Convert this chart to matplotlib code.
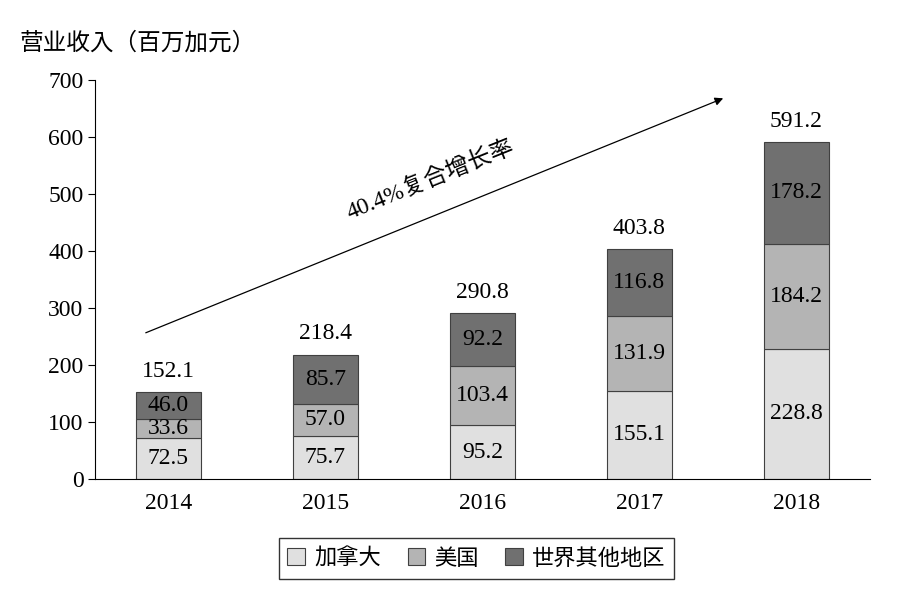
import matplotlib.pyplot as plt
from matplotlib import font_manager
import numpy as np

years = ["2014", "2015", "2016", "2017", "2018"]
canada = [72.5, 75.7, 95.2, 155.1, 228.8]
usa = [33.6, 57.0, 103.4, 131.9, 184.2]
rest = [46.0, 85.7, 92.2, 116.8, 178.2]
totals = [152.1, 218.4, 290.8, 403.8, 591.2]
series_names = ["加拿大", "美国", "世界其他地区"]

# pick whichever CJK family name is actually registered
cjk = "Noto Sans CJK SC"
names = sorted({f.name for f in font_manager.fontManager.ttflist if "CJK" in f.name})
if names and cjk not in names:
    cjk = names[0]

plt.rcParams["font.family"] = ["Liberation Serif", cjk]
plt.rcParams["font.size"] = 17

fig = plt.figure(figsize=(8.99, 6.12), dpi=100)
ax = fig.add_axes([0.106, 0.217, 0.862, 0.652])

x = np.arange(len(years))
w = 0.41
colors = ["#e0e0e0", "#b4b4b4", "#707070"]
bottom = np.zeros(len(years))
for vals, c, name in zip([canada, usa, rest], colors, series_names):
    ax.bar(x, vals, w, bottom=bottom, color=c, edgecolor="#404040", linewidth=0.8, label=name)
    for xi, b, v in zip(x, bottom, vals):
        ax.text(xi, b + v / 2, f"{v:.1f}", ha="center", va="center", fontsize=17)
    bottom += np.array(vals)

for xi, t in zip(x, totals):
    ax.text(xi, t + 18, f"{t:.1f}", ha="center", va="bottom", fontsize=17)

ax.annotate("", xy=(3.55, 670), xytext=(-0.16, 255),
            arrowprops=dict(arrowstyle="-|>", color="black", lw=0.9, mutation_scale=12))
ax.text(1.67, 525, "40.4%复合增长率", rotation=22, ha="center", va="center", fontsize=17)

ax.set_xlim(-0.465, 4.47)
ax.set_ylim(0, 700)
ax.set_yticks(range(0, 701, 100))
ax.set_xticks(x)
ax.set_xticklabels(years)
ax.tick_params(axis="x", length=0, pad=10)
ax.tick_params(axis="y", direction="out", length=5)
for s in ["top", "right"]:
    ax.spines[s].set_visible(False)

fig.text(0.022, 0.93, "营业收入（百万加元）", fontsize=17, ha="left", va="center")
fig.legend(loc="center", bbox_to_anchor=(0.53, 0.088), ncol=3, frameon=True,
           edgecolor="black", fancybox=False, handlelength=0.8, handleheight=0.8,
           columnspacing=1.2, handletextpad=0.4, prop={"family": cjk, "size": 16})

fig.savefig("out.png", dpi=100)
